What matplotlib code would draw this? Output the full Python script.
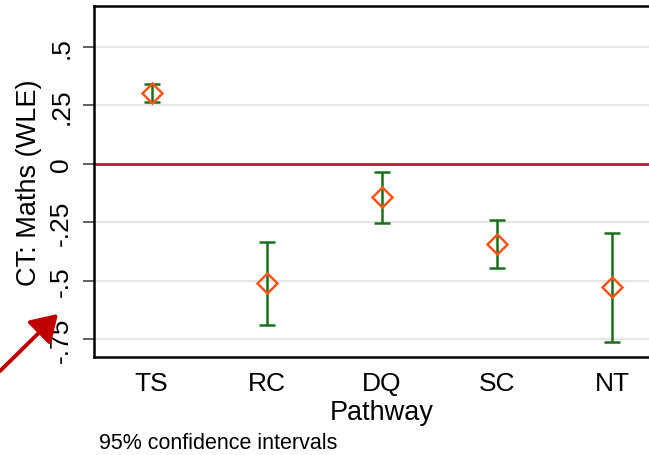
import numpy as np
import matplotlib
matplotlib.use("Agg")
import matplotlib.pyplot as plt

plt.rcParams['font.family'] = ['Liberation Sans', 'DejaVu Sans']

# pathway estimates with 95% CI bounds
pathways = ['TS', 'RC', 'DQ', 'SC', 'NT']
means = [0.304, -0.511, -0.144, -0.344, -0.528]
ci_low = [0.264, -0.690, -0.254, -0.447, -0.761]
ci_high = [0.342, -0.335, -0.034, -0.240, -0.295]
yticks = [-0.75, -0.5, -0.25, 0, 0.25, 0.5]
ytick_labels = ['-.75', '-.5', '-.25', '0', '.25', '.5']

W, H = 649, 456
fig = plt.figure(figsize=(W / 100, H / 100), dpi=100)
# plot region runs past the right edge of the figure
ax = fig.add_axes([94 / W, 1 - 358 / H, 576 / W, 351 / H])

x = np.arange(1, len(pathways) + 1)
m = np.array(means)
lo = m - np.array(ci_low)
hi = np.array(ci_high) - m

for yv in yticks:
    ax.axhline(yv, color='#e6e6e6', lw=1.6, zorder=0)
ax.axhline(0, color='#c8103c', lw=2.0, zorder=1)

ax.errorbar(x, m, yerr=[lo, hi], fmt='none', ecolor='#1b6e1b',
            elinewidth=1.8, capsize=5.5, capthick=1.8, zorder=2)
ax.plot(x, m, 'D', ms=10, mfc='none', mec='#ff5517', mew=1.8, zorder=3)

ax.set_xlim(0.5, 5.5)
ax.set_ylim(-0.827, 0.675)
ax.set_xticks(x)
ax.set_xticklabels(pathways, fontsize=19)
ax.tick_params(axis='x', length=0, pad=10)
ax.set_yticks(yticks)
ax.set_yticklabels(ytick_labels, fontsize=19, rotation=90, va='center')
ax.tick_params(axis='y', length=8, width=1.3, color='#555555', pad=7)

for s in ax.spines.values():
    s.set_linewidth(1.8)
    s.set_color('black')

ax.set_ylabel('CT: Maths (WLE)', fontsize=19.5)
ax.yaxis.set_label_coords(-52 / 576, 0.5)
ax.set_xlabel('Pathway', fontsize=19.5, labelpad=3)

fig.text(99 / W, 1 - 444 / H, '95% confidence intervals', fontsize=15.5,
         va='center', ha='left')

# red pointer arrow at lower left
fig.patches.append(matplotlib.patches.FancyArrowPatch(
    (-2 / W, 1 - 374 / H), (60 / W, 1 - 313 / H), transform=fig.transFigure,
    arrowstyle='-|>,head_length=8,head_width=5', color='#c00000',
    lw=2.8, mutation_scale=2))

fig.savefig('out.png', dpi=100)
